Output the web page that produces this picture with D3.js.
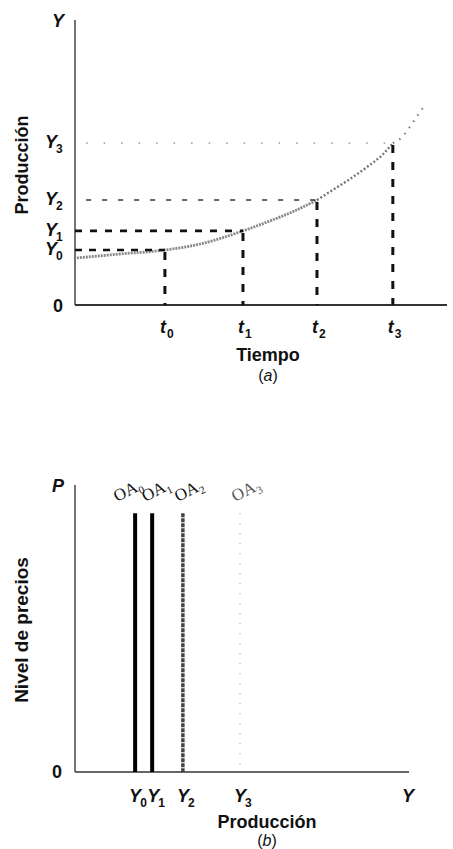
<!DOCTYPE html>
<html>
<head>
<meta charset="utf-8">
<script src="https://cdn.jsdelivr.net/npm/d3@7"></script>
<style>
  body { margin: 0; background: #fff; }
  text { font-family: "Liberation Sans", Arial, sans-serif; fill: #111; }
</style>
</head>
<body>
<svg class="plot" width="453" height="849"></svg>
<script>
// ---- data (panel a: output over time) ----
var timeMarks = [24.3, 45.4, 65.4, 85.9];          // t0..t3
var outputLevels = [19.3, 26.0, 36.8, 56.8];       // Y0..Y3
var curveTime = [0.5, 12.2, 24.3, 33.8, 45.4, 52.7, 58.1, 65.4, 69.7, 74.3, 78.9, 83.0, 85.9, 88.4, 90.5, 92.7, 94.6];
var curveOutput = [16.5, 17.9, 19.3, 21.4, 26.0, 29.5, 32.3, 36.8, 40.4, 44.2, 48.4, 52.6, 56.8, 58.9, 62.5, 66.7, 70.2];
var subs = ["0", "1", "2", "3"];

// ---- data (panel b: vertical aggregate supply) ----
var supplyOutput = [18.0, 23.1, 32.3, 49.4];       // OA0..OA3 positions on Y
var supplyTop = 90.2;                              // price level where the lines stop

var svg = d3.select(".plot");

// scales, panel a
var xa = d3.scaleLinear().domain([0, 100]).range([75, 445]),
    ya = d3.scaleLinear().domain([0, 100]).range([305, 20]);
// scales, panel b
var xb = d3.scaleLinear().domain([0, 100]).range([75, 409]),
    yb = d3.scaleLinear().domain([0, 100]).range([772, 485]);

//helper to write a label with an italic letter and a subscript digit
function subLabel(g, x, y, letter, sub, dx) {
  var t = g.append("text").attr("x", x).attr("y", y)
      .style("font-size", "18px").style("font-weight", "bold");
  t.append("tspan").style("font-style", "italic").text(letter);
  if (sub !== null) {
    t.append("tspan").attr("dx", dx || 0).attr("dy", 5).style("font-size", "12px").text(sub);
  }
  return t;
}

/* PANEL A */
var ga = svg.append("g");

// axes (plain lines, no ticks)
ga.append("line").attr("x1", xa(0)).attr("x2", xa(0)).attr("y1", ya(100)).attr("y2", ya(0))
    .attr("stroke", "#444").attr("stroke-width", 1.5);
ga.append("line").attr("x1", xa(0)).attr("x2", xa(100) + 2).attr("y1", ya(0)).attr("y2", ya(0))
    .attr("stroke", "#333").attr("stroke-width", 2);

// curve, drawn in three pieces so the scan-like stipple fades upward
var pts = curveTime.map(function(t, i) { return [t, curveOutput[i]]; });
var line = d3.line().x(function(d) { return xa(d[0]); }).y(function(d) { return ya(d[1]); })
    .curve(d3.curveMonotoneX);
var pieces = [
  {f: function(d) { return d[0] <= timeMarks[2]; }, dash: "2,1", col: "#888", w: 2.8},
  {f: function(d) { return d[0] >= timeMarks[2] && d[0] <= timeMarks[3]; }, dash: "2,2", col: "#777", w: 2.4},
  {f: function(d) { return d[0] >= timeMarks[3]; }, dash: "1.5,6", col: "#777", w: 2}
];
pieces.forEach(function(p) {
  ga.append("path").datum(pts.filter(p.f)).attr("d", line)
      .attr("fill", "none").attr("stroke", p.col).attr("stroke-width", p.w)
      .attr("stroke-dasharray", p.dash);
});

// horizontal guides to each Y level
var hStyle = [
  {dash: "7,7", w: 2.6, col: "#111", x0: 0},
  {dash: "7,8", w: 2.6, col: "#111", x0: 0},
  {dash: "5,11", w: 1.5, col: "#333", x0: 3},
  {dash: "1.5,16", w: 1.3, col: "#888", x0: 3}
];
ga.selectAll(".hguide").data(outputLevels).enter().append("line")
    .attr("class", "hguide")
    .attr("x1", function(d, i) { return xa(hStyle[i].x0); })
    .attr("x2", function(d, i) { return xa(timeMarks[i]); })
    .attr("y1", function(d) { return ya(d); })
    .attr("y2", function(d) { return ya(d); })
    .attr("stroke", function(d, i) { return hStyle[i].col; })
    .attr("stroke-width", function(d, i) { return hStyle[i].w; })
    .attr("stroke-dasharray", function(d, i) { return hStyle[i].dash; });

// vertical guides down from the curve to each t
ga.selectAll(".vguide").data(timeMarks).enter().append("line")
    .attr("class", "vguide")
    .attr("x1", function(d) { return xa(d); })
    .attr("x2", function(d) { return xa(d); })
    .attr("y1", function(d, i) { return ya(outputLevels[i]) + 2; })
    .attr("y2", ya(0))
    .attr("stroke", "#111").attr("stroke-width", 3)
    .attr("stroke-dasharray", "8,9");

// labels
subLabel(ga, 52, 27, "Y", null);
ga.append("text").attr("x", 53).attr("y", 312).style("font-size", "18px").style("font-weight", "bold").text("0");
outputLevels.forEach(function(v, i) {
  subLabel(ga, 45, ya(v) + 5, "Y", subs[i], -1);
});
timeMarks.forEach(function(v, i) {
  subLabel(ga, xa(v) - 5, 333, "t", subs[i], 1);
});
ga.append("text").attr("transform", "translate(28,165) rotate(-90)")
    .attr("text-anchor", "middle").style("font-size", "18px").style("font-weight", "bold")
    .text("Producción");
ga.append("text").attr("x", 268).attr("y", 361).attr("text-anchor", "middle")
    .style("font-size", "18px").style("font-weight", "bold").text("Tiempo");
var la = ga.append("text").attr("x", 268).attr("y", 381).attr("text-anchor", "middle").style("font-size", "16px");
la.append("tspan").text("(");
la.append("tspan").style("font-style", "italic").text("a");
la.append("tspan").text(")");

/* PANEL B */
var gb = svg.append("g");

gb.append("line").attr("x1", xb(0)).attr("x2", xb(0)).attr("y1", yb(100)).attr("y2", yb(0))
    .attr("stroke", "#444").attr("stroke-width", 1.5);
gb.append("line").attr("x1", xb(0)).attr("x2", xb(100)).attr("y1", yb(0)).attr("y2", yb(0))
    .attr("stroke", "#333").attr("stroke-width", 1.5);

var sStyle = [
  {w: 4, col: "#000", dash: null},
  {w: 4, col: "#000", dash: null},
  {w: 3.5, col: "#444", dash: "4,1"},
  {w: 1.5, col: "#aaa", dash: "1,9"}
];
gb.selectAll(".oa").data(supplyOutput).enter().append("line")
    .attr("class", "oa")
    .attr("x1", function(d) { return xb(d); })
    .attr("x2", function(d) { return xb(d); })
    .attr("y1", yb(supplyTop))
    .attr("y2", yb(0))
    .attr("stroke", function(d, i) { return sStyle[i].col; })
    .attr("stroke-width", function(d, i) { return sStyle[i].w; })
    .attr("stroke-dasharray", function(d, i) { return sStyle[i].dash; });

// OA labels, tilted, in a serif face; each sits in its own rotated group
var oaShift = [-18, -7, -5, -5];
supplyOutput.forEach(function(v, i) {
  var g = gb.append("g")
      .attr("transform", "translate(" + (xb(v) + oaShift[i]) + ",502) rotate(-27)");
  var t = g.append("text")
      .style("font-family", "'Liberation Serif', 'DejaVu Serif', serif").style("font-size", "17px")
      .style("fill", i === 3 ? "#555" : "#111");
  t.append("tspan").text("OA");
  t.append("tspan").attr("dy", 4).style("font-size", "11px").text(subs[i]);
});

subLabel(gb, 52, 492, "P", null);
gb.append("text").attr("x", 52).attr("y", 778).style("font-size", "18px").style("font-weight", "bold").text("0");
supplyOutput.forEach(function(v, i) {
  subLabel(gb, xb(v) - 6 + (i === 1 ? 1 : 0), 802, "Y", subs[i], -1);
});
subLabel(gb, 402, 802, "Y", null);
gb.append("text").attr("transform", "translate(28,630) rotate(-90)")
    .attr("text-anchor", "middle").style("font-size", "19px").style("font-weight", "bold")
    .text("Nivel de precios");
gb.append("text").attr("x", 267).attr("y", 828).attr("text-anchor", "middle")
    .style("font-size", "18px").style("font-weight", "bold").text("Producción");
var lb = gb.append("text").attr("x", 267).attr("y", 846).attr("text-anchor", "middle").style("font-size", "16px");
lb.append("tspan").text("(");
lb.append("tspan").style("font-style", "italic").text("b");
lb.append("tspan").text(")");
</script>
</body>
</html>
